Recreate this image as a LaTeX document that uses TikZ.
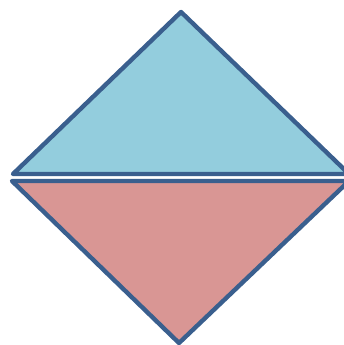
\documentclass[tikz,border=0pt]{standalone}
\definecolor{topfill}{HTML}{93CDDD}
\definecolor{botfill}{HTML}{D99694}
\definecolor{edge}{HTML}{3A5F8E}
\tikzset{tri/.style={draw=edge,line width=4.4pt,line join=round}}
\begin{document}
\begin{tikzpicture}[x=1pt,y=-1pt]
\useasboundingbox (0,0) rectangle (344,345);
\filldraw[tri,fill=topfill] (181,12) -- (13,174) -- (349,174) -- cycle;
\filldraw[tri,fill=botfill] (12,181) -- (349,181) -- (179,343) -- cycle;
\end{tikzpicture}
\end{document}
